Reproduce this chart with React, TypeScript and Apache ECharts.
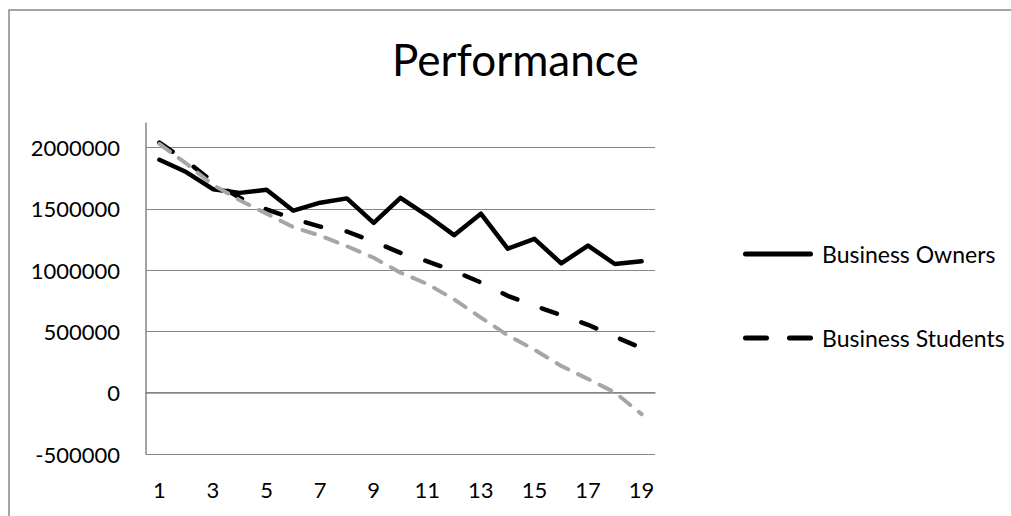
import React, { useEffect, useRef } from 'react';
import * as echarts from 'echarts';

const categories = ['1','2','3','4','5','6','7','8','9','10','11','12','13','14','15','16','17','18','19'];
const businessOwners = [1900000, 1800000, 1660000, 1630000, 1655000, 1485000, 1550000, 1585000, 1385000, 1590000, 1445000, 1285000, 1460000, 1175000, 1255000, 1055000, 1200000, 1050000, 1072000];
const businessStudents = [2040000, 1890000, 1720000, 1590000, 1495000, 1420000, 1355000, 1315000, 1232000, 1141000, 1072000, 993000, 899000, 790000, 709000, 633000, 554000, 457000, 365000];
const trendLine = [2030000, 1870000, 1695000, 1570000, 1461000, 1350000, 1281000, 1195000, 1101000, 979000, 887000, 761000, 613000, 469000, 351000, 218000, 112000, 2000, -175000];
const yMin = -500000;
const yMax = 2200000;
const yStep = 500000;

const FONT = 'Lato';

const solidIcon = 'path://M2.5,0 L67.5,0 A2.5,2.5 0 0 1 67.5,5 L2.5,5 A2.5,2.5 0 0 1 2.5,0 Z';
const dashIcon = 'path://M2.5,0 L23.5,0 A2.5,2.5 0 0 1 23.5,5 L2.5,5 A2.5,2.5 0 0 1 2.5,0 Z M46.5,0 L67.5,0 A2.5,2.5 0 0 1 67.5,5 L46.5,5 A2.5,2.5 0 0 1 46.5,0 Z';

export default function App() {
  const ref = useRef<HTMLDivElement>(null);
  useEffect(() => {
    if (!ref.current) return;
    const chart = echarts.init(ref.current, undefined, { renderer: 'svg' });
    chart.setOption({
      animation: false,
      backgroundColor: '#ffffff',
      title: {
        text: 'Performance',
        left: 392,
        top: 37,
        padding: 0,
        textStyle: { fontFamily: FONT, fontSize: 44, fontWeight: 'normal', color: '#000' },
      },
      graphic: [
        {
          type: 'rect',
          shape: { x: 9, y: 10, width: 1200, height: 700 },
          style: { fill: 'none', stroke: '#868686', lineWidth: 1.5 },
          silent: true,
        },
      ],
      grid: { left: 146, right: 356, top: 123, bottom: 62, containLabel: false },
      legend: {
        orient: 'vertical',
        left: 743,
        top: 241,
        padding: 0,
        itemWidth: 70,
        itemHeight: 5,
        itemGap: 58,
        data: [
          { name: 'Business Owners', icon: solidIcon },
          { name: 'Business Students', icon: dashIcon },
        ],
        itemStyle: { color: '#000', borderWidth: 0 },
        textStyle: { fontFamily: FONT, fontSize: 23, lineHeight: 26, color: '#000', padding: [0, 0, 0, 4] },
      },
      xAxis: {
        type: 'category',
        data: categories,
        boundaryGap: true,
        axisLine: { show: true, lineStyle: { color: '#868686', width: 1.5 } },
        axisTick: { show: false },
        axisLabel: { interval: 1, margin: 24, fontFamily: FONT, fontSize: 22, color: '#000' },
        splitLine: { show: false },
      },
      yAxis: {
        type: 'value',
        min: yMin,
        max: yMax,
        interval: yStep,
        axisLine: { show: true, lineStyle: { color: '#868686', width: 1.5 } },
        axisTick: { show: false },
        axisLabel: {
          showMaxLabel: false,
          margin: 26,
          fontFamily: FONT,
          fontSize: 22,
          color: '#000',
          formatter: (v: number) => String(v),
        },
        splitLine: { show: true, showMaxLine: false, lineStyle: { color: '#868686', width: 1 } },
      },
      series: [
        {
          name: 'Business Owners',
          type: 'line',
          data: businessOwners,
          symbol: 'none',
          lineStyle: { color: '#000', width: 4.5, cap: 'round', join: 'round' },
          itemStyle: { color: '#000' },
        },
        {
          name: 'Business Students',
          type: 'line',
          data: businessStudents,
          symbol: 'none',
          lineStyle: { color: '#000', width: 4.5, type: [16, 26], cap: 'round', join: 'round' },
          itemStyle: { color: '#000' },
        },
        {
          name: 'Trend',
          type: 'line',
          data: trendLine,
          symbol: 'none',
          lineStyle: { color: '#a6a6a6', width: 4, type: [13, 11], cap: 'round', join: 'round' },
          itemStyle: { color: '#a6a6a6' },
        },
      ],
    });
    return () => chart.dispose();
  }, []);
  return <div ref={ref} style={{ position: 'fixed', left: 0, top: 0, width: 1011, height: 516 }} />;
}
